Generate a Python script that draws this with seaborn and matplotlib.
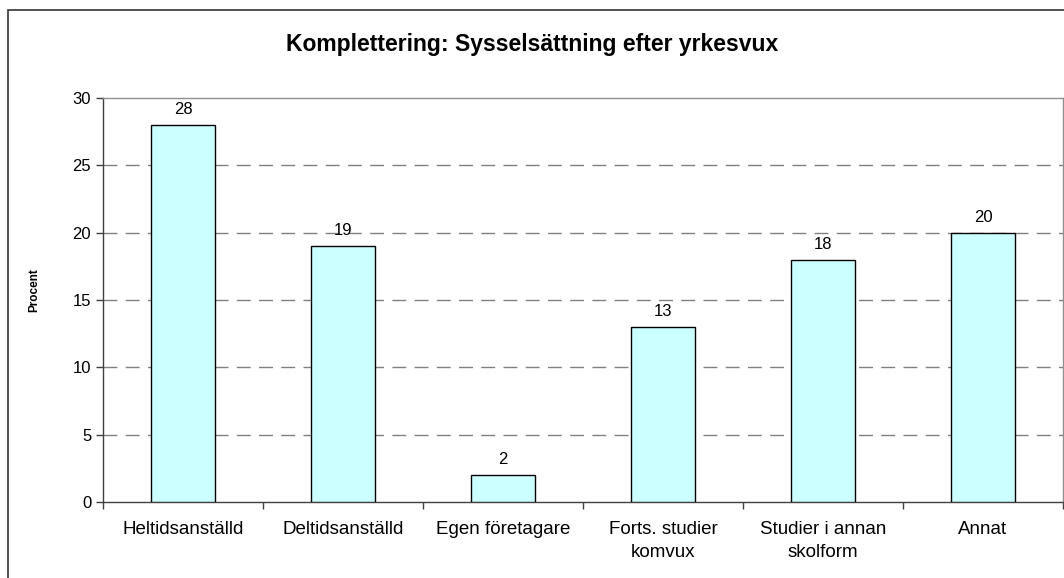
import matplotlib
matplotlib.use('Agg')
import matplotlib.pyplot as plt
import seaborn as sns
import pandas as pd
from matplotlib.patches import Rectangle

# Datos
kategorier = ['Heltidsanställd', 'Deltidsanställd', 'Egen företagare',
              'Forts. studier\nkomvux', 'Studier i annan\nskolform', 'Annat']
procent = [28, 19, 2, 13, 18, 20]
y_ticks = [0, 5, 10, 15, 20, 25, 30]

df = pd.DataFrame({'Kategori': kategorier, 'Procent': procent})

sns.set_style('white')
plt.rcParams['font.family'] = ['Liberation Sans', 'DejaVu Sans']
plt.rcParams['text.color'] = 'black'
plt.rcParams['xtick.color'] = 'black'
plt.rcParams['ytick.color'] = 'black'
plt.rcParams['axes.labelcolor'] = 'black'

fig = plt.figure(figsize=(10.64, 5.78), dpi=100)
ax = fig.add_axes([103 / 1064, 1 - 502 / 578, 960 / 1064, 404 / 578])

sns.barplot(x='Kategori', y='Procent', data=df, color='#CCFFFF',
            edgecolor='black', linewidth=1, width=0.4, saturation=1, ax=ax, zorder=3)

# Etiquetas de valor
for i, v in enumerate(procent):
    ax.text(i, v + 0.6, str(v), ha='center', va='bottom', fontsize=12)

ax.set_ylim(0, 30)
ax.set_xlim(-0.5, 5.5)
ax.set_yticks(y_ticks)
ax.tick_params(axis='y', labelsize=12, length=5, width=1, color='#404040', direction='out', left=True)
ax.tick_params(axis='x', labelsize=13.5, length=0, pad=14)
ax.set_xticks(range(len(kategorier)))
ax.set_xticklabels(kategorier, linespacing=1.4)
ax.set_xticks([i - 0.5 for i in range(len(kategorier) + 1)], minor=True)
ax.tick_params(axis='x', which='minor', length=5, width=1, color='#404040', bottom=True)

# Grilla discontinua
for y in y_ticks[1:-1]:
    ax.axhline(y, color='#808080', linestyle=(0, (10, 6)), linewidth=1, zorder=1)

ax.spines['left'].set_color('#404040')
ax.spines['bottom'].set_color('#404040')
ax.spines['top'].set_color('#909090')
ax.spines['right'].set_color('#909090')
for s in ax.spines.values():
    s.set_linewidth(1)

ax.set_xlabel('')
ax.set_ylabel('Procent', fontsize=8.5, fontweight='bold')
ax.yaxis.set_label_coords((40 - 103) / 960, (502 - 290) / 404)

fig.text(532 / 1064, 1 - 45 / 578, 'Komplettering: Sysselsättning efter yrkesvux',
         ha='center', va='center', fontsize=16.5, fontweight='bold')

# Marco exterior
fig.patches.append(Rectangle((8 / 1064, -0.1), 1.2, 1 - 10 / 578 + 0.1,
                             transform=fig.transFigure, fill=False,
                             edgecolor='#333333', linewidth=1.2))

plt.savefig('out.png', dpi=100)
plt.close()
